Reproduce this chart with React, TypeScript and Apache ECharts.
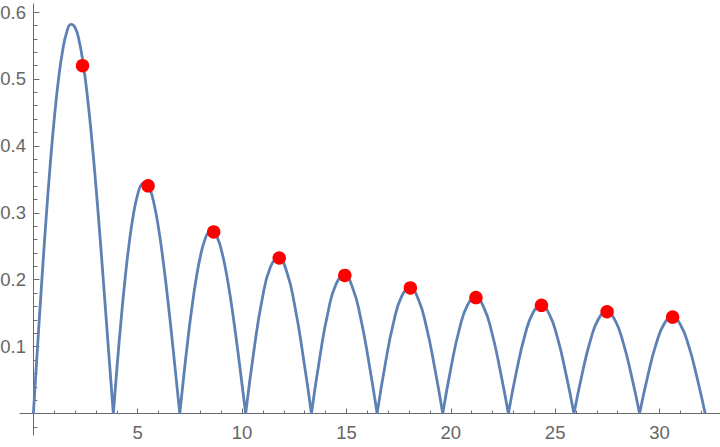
import React, { useEffect, useRef } from "react";
import * as echarts from "echarts";

// |J1(x)|, one arch per array (zero to zero)
const arch1 = [[0, 0], [0.2, 0.0995], [0.4, 0.196], [0.6, 0.2867], [0.8, 0.3688], [1.0, 0.4401], [1.2, 0.4983], [1.4, 0.5419], [1.6, 0.5699], [1.8, 0.5815], [2.0, 0.5767], [2.2, 0.556], [2.4, 0.5202], [2.6, 0.4708], [2.8, 0.4097], [3.0, 0.3391], [3.2, 0.2613], [3.4, 0.1792], [3.6, 0.0955], [3.8317, 0]];
const arch2 = [[3.8317, 0], [4.0, 0.066], [4.2, 0.1386], [4.4, 0.2028], [4.6, 0.2566], [4.8, 0.2985], [5.0, 0.3276], [5.2, 0.3432], [5.4, 0.3453], [5.6, 0.3343], [5.8, 0.311], [6.0, 0.2767], [6.2, 0.2329], [6.4, 0.1816], [6.6, 0.125], [6.8, 0.0652], [7.0156, 0]];
const arch3 = [[7.0156, 0], [7.2, 0.0543], [7.4, 0.1096], [7.6, 0.1592], [7.8, 0.2014], [8.0, 0.2346], [8.2, 0.258], [8.4, 0.2708], [8.6, 0.2728], [8.8, 0.2641], [9.0, 0.2453], [9.2, 0.2174], [9.4, 0.1816], [9.6, 0.1395], [9.8, 0.0928], [10.0, 0.0435], [10.1735, 0]];
const arch4 = [[10.1735, 0], [10.567, 0.0939], [10.961, 0.1704], [11.355, 0.2188], [11.749, 0.2328], [12.143, 0.2115], [12.536, 0.1593], [12.93, 0.0849], [13.3237, 0]];
const arch5 = [[13.3237, 0], [13.717, 0.0824], [14.11, 0.1502], [14.504, 0.1936], [14.897, 0.2067], [15.291, 0.1885], [15.684, 0.1425], [16.077, 0.0762], [16.4706, 0]];
const arch6 = [[16.4706, 0], [16.864, 0.0744], [17.257, 0.1358], [17.65, 0.1755], [18.043, 0.1878], [18.436, 0.1717], [18.83, 0.13], [19.223, 0.0696], [19.6159, 0]];
const arch7 = [[19.6159, 0], [20.009, 0.0683], [20.402, 0.1249], [20.795, 0.1617], [21.188, 0.1733], [21.581, 0.1587], [21.974, 0.1204], [22.367, 0.0646], [22.7601, 0]];
const arch8 = [[22.7601, 0], [23.153, 0.0635], [23.546, 0.1163], [23.939, 0.1507], [24.332, 0.1618], [24.725, 0.1482], [25.118, 0.1126], [25.511, 0.0605], [25.9037, 0]];
const arch9 = [[25.9037, 0], [26.297, 0.0595], [26.69, 0.1092], [27.083, 0.1417], [27.475, 0.1522], [27.868, 0.1396], [28.261, 0.1061], [28.654, 0.057], [29.0468, 0]];
const arch10 = [[29.0468, 0], [29.44, 0.0563], [29.833, 0.1033], [30.226, 0.1341], [30.618, 0.1442], [31.011, 0.1324], [31.404, 0.1007], [31.797, 0.0542], [32.1897, 0]];

const markerX = [2.3562, 5.4978, 8.6394, 11.781, 14.9226, 18.0642, 21.2058, 24.3473, 27.4889, 30.6305];
const markerY = [0.5198, 0.3403, 0.2715, 0.2325, 0.2065, 0.1877, 0.1733, 0.1617, 0.1522, 0.1442];

const xMajorTicks = [5, 10, 15, 20, 25, 30];
const xMinorTicks = [1, 2, 3, 4, 6, 7, 8, 9, 11, 12, 13, 14, 16, 17, 18, 19, 21, 22, 23, 24, 26, 27, 28, 29, 31, 32];
const yMajorTicks = [0.1, 0.2, 0.3, 0.4, 0.5, 0.6];
const yMinorTicks = [-0.02, 0.02, 0.04, 0.06, 0.08, 0.12, 0.14, 0.16, 0.18, 0.22, 0.24, 0.26, 0.28, 0.32, 0.34, 0.36, 0.38, 0.42, 0.44, 0.46, 0.48, 0.52, 0.54, 0.56, 0.58];

const X_MIN = -0.64;
const X_MAX = 32.9;
const Y_MIN = -0.032;
const Y_MAX = 0.612;

const AXIS_COLOR = "#6a6a6a";
const LABEL_COLOR = "#666666";
const FONT = "'Liberation Sans', Arial, sans-serif";

export default function App() {
  const ref = useRef<HTMLDivElement>(null);

  useEffect(() => {
    if (!ref.current) return;
    const chart = echarts.init(ref.current, null, { renderer: "svg" });

    const arches = [arch1, arch2, arch3, arch4, arch5, arch6, arch7, arch8, arch9, arch10];
    const curveData: any[] = [];
    arches.forEach((a, i) => {
      if (i > 0) curveData.push([a[0][0], "-"]);
      a.forEach((p) => curveData.push(p));
    });
    const markerData = markerX.map((x, i) => [x, markerY[i]]);

    const commonX = {
      type: "value",
      min: X_MIN,
      max: X_MAX,
      position: "bottom",
      splitLine: { show: false },
    };
    const commonY = {
      type: "value",
      min: Y_MIN,
      max: Y_MAX,
      position: "left",
      splitLine: { show: false },
    };

    chart.setOption({
      animation: false,
      grid: { left: 20, right: 0, top: 4, bottom: 12, containLabel: false, outerBoundsMode: "none" },
      xAxis: [
        {
          ...commonX,
          axisLine: { show: true, onZero: true, lineStyle: { color: AXIS_COLOR, width: 1 } },
          axisTick: { show: true, inside: true, length: 3, customValues: xMinorTicks, lineStyle: { color: AXIS_COLOR } },
          axisLabel: {
            show: true,
            customValues: xMajorTicks,
            margin: -12,
            color: LABEL_COLOR,
            fontSize: 18.5,
            fontFamily: FONT,
          },
        },
        {
          ...commonX,
          axisLine: { show: false, onZero: true },
          axisTick: { show: true, inside: true, length: 5, customValues: xMajorTicks, lineStyle: { color: AXIS_COLOR } },
          axisLabel: { show: false },
        },
      ],
      yAxis: [
        {
          ...commonY,
          axisLine: { show: true, onZero: true, lineStyle: { color: AXIS_COLOR, width: 1 } },
          axisTick: { show: true, inside: true, length: 4, customValues: yMinorTicks, lineStyle: { color: AXIS_COLOR } },
          axisLabel: {
            show: true,
            customValues: yMajorTicks,
            margin: -6,
            color: LABEL_COLOR,
            fontSize: 18.5,
            fontFamily: FONT,
            formatter: (v: number) => v.toFixed(1),
          },
        },
        {
          ...commonY,
          axisLine: { show: false, onZero: true },
          axisTick: { show: true, inside: true, length: 6, customValues: yMajorTicks, lineStyle: { color: AXIS_COLOR } },
          axisLabel: { show: false },
        },
      ],
      series: [
        {
          type: "line",
          xAxisIndex: 0,
          yAxisIndex: 0,
          data: curveData,
          smooth: 0.5,
          showSymbol: false,
          symbol: "none",
          connectNulls: false,
          lineStyle: { color: "#5e81b5", width: 2.8 },
          z: 2,
        },
        {
          type: "scatter",
          xAxisIndex: 0,
          yAxisIndex: 0,
          data: markerData,
          symbol: "circle",
          symbolSize: 13.5,
          itemStyle: { color: "#ff0000", opacity: 1 },
          z: 3,
        },
      ],
    });

    return () => chart.dispose();
  }, []);

  return (
    <div
      ref={ref}
      style={{ position: "fixed", left: 0, top: 0, width: 720, height: 447, background: "#ffffff" }}
    />
  );
}
